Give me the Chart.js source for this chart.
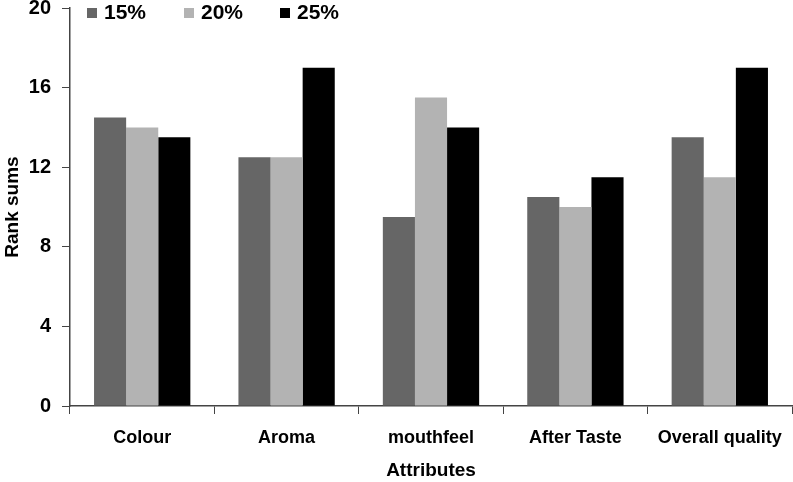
<!DOCTYPE html>
<html><head><meta charset="utf-8">
<script src="https://cdn.jsdelivr.net/npm/chart.js@4"></script>
<style>html,body{margin:0;padding:0;background:#fff}#wrap{width:793px;height:482px}</style>
</head><body><div id="wrap"><canvas id="c" width="793" height="482"></canvas></div>
<script>
const categories = ["Colour", "Aroma", "mouthfeel", "After Taste", "Overall quality"];
const seriesLabels = ["15%", "20%", "25%"];
const s15 = [14.5, 12.5, 9.5, 10.5, 13.5];
const s20 = [14, 12.5, 15.5, 10, 11.5];
const s25 = [13.5, 17, 14, 11.5, 17];
const yTicks = [0, 4, 8, 12, 16, 20];
const colors = ["#666666", "#b3b3b3", "#000000"];
const FONT = '"Liberation Sans", Arial, sans-serif';

const legendPlugin = {
  id: 'customLegend',
  afterDraw(chart) {
    const ctx = chart.ctx;
    ctx.save();
    ctx.font = 'bold 21px ' + FONT;
    ctx.textBaseline = 'middle';
    const xs = [87, 184, 280];
    chart.data.datasets.forEach((ds, i) => {
      ctx.fillStyle = ds.backgroundColor;
      ctx.fillRect(xs[i], 8, 10, 10);
      ctx.fillStyle = '#000';
      ctx.fillText(ds.label, xs[i] + 17, 13);
    });
    ctx.restore();
  }
};

new Chart(document.getElementById('c'), {
  type: 'bar',
  data: {
    labels: categories,
    datasets: [
      {label: seriesLabels[0], data: s15, backgroundColor: colors[0]},
      {label: seriesLabels[1], data: s20, backgroundColor: colors[1]},
      {label: seriesLabels[2], data: s25, backgroundColor: colors[2]}
    ]
  },
  options: {
    responsive: false,
    animation: false,
    devicePixelRatio: 1,
    layout: {padding: {left: 0, right: 1, top: 8, bottom: 0}},
    plugins: {legend: {display: false}, tooltip: {enabled: false}},
    datasets: {bar: {categoryPercentage: 0.667, barPercentage: 1.0}},
    scales: {
      x: {
        grid: {display: true, drawOnChartArea: false, drawTicks: true, tickLength: 8, color: '#444', offset: true},
        border: {display: true, color: '#444', width: 1.5},
        ticks: {color: '#000', font: {family: FONT, size: 18, weight: 'bold'}, padding: 13, maxRotation: 0},
        title: {display: true, text: 'Attributes', color: '#000', font: {family: FONT, size: 19, weight: 'bold'}, padding: {top: 10, bottom: 0}},
        afterFit(scale) { scale.height = 76; scale.paddingLeft = 0; scale.paddingRight = 0; }
      },
      y: {
        min: 0, max: 20,
        afterBuildTicks(scale) { scale.ticks = yTicks.map(v => ({value: v})); },
        grid: {display: true, drawOnChartArea: false, drawTicks: true, tickLength: 8, color: '#444'},
        border: {display: true, color: '#444', width: 1.5},
        ticks: {color: '#000', font: {family: FONT, size: 20, weight: 'bold'}, padding: 11},
        title: {display: true, text: 'Rank sums', color: '#000', font: {family: FONT, size: 19, weight: 'bold'}, padding: {top: 1, bottom: 2}},
        afterFit(scale) { scale.width = 70; scale.paddingTop = 0; scale.paddingBottom = 0; }
      }
    }
  },
  plugins: [legendPlugin]
});
</script></body></html>
